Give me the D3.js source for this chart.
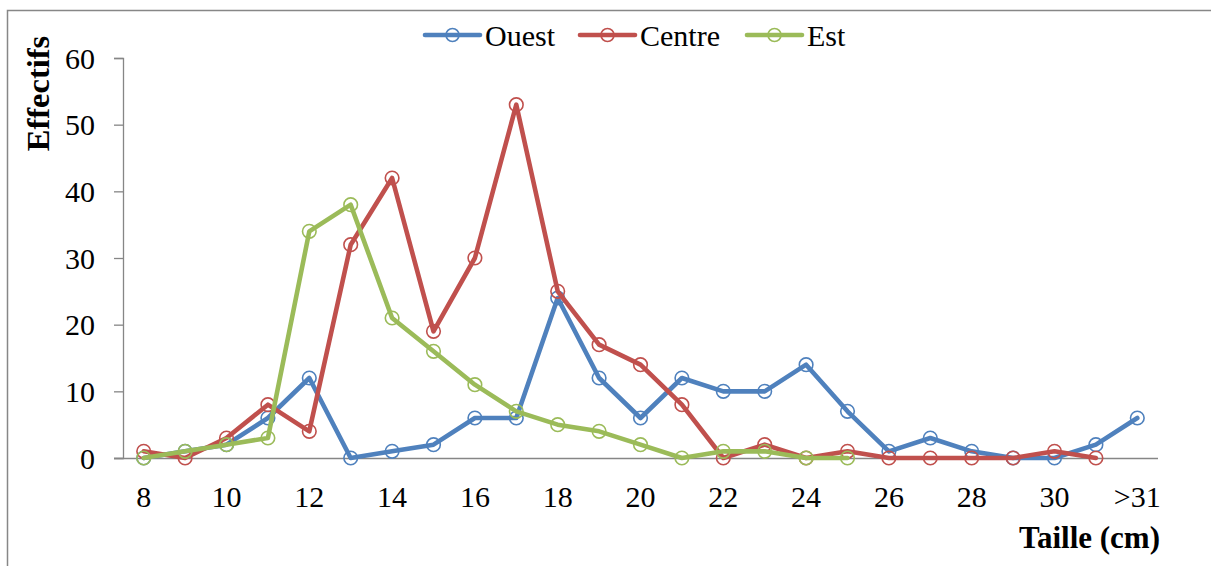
<!DOCTYPE html>
<html><head><meta charset="utf-8">
<script src="https://cdn.jsdelivr.net/npm/d3@7"></script>
<style>
body{margin:0;background:#fff;}
svg{display:block;font-family:"Liberation Serif","Times New Roman",serif;}
svg text{font-family:"Liberation Serif","Times New Roman",serif;}
</style></head>
<body><svg id="c" width="1211" height="566"></svg>
<script>
const categories = ["8","9","10","11","12","13","14","15","16","17","18","19","20","21","22","23","24","25","26","27","28","29","30","31",">31"];
const tickLabels = ["8","10","12","14","16","18","20","22","24","26","28","30",">31"];
const ouest  = [0,1,2,6,12,0,1,2,6,6,24,12,6,12,10,10,14,7,1,3,1,0,0,2,6];
const centre = [1,0,3,8,4,32,42,19,30,53,25,17,14,8,0,2,0,1,0,0,0,0,1,0,null];
const est    = [0,1,2,3,34,38,21,16,11,7,5,4,2,0,1,1,0,0,null,null,null,null,null,null,null];
const seriesNames = ["Ouest","Centre","Est"];
const yTicks = [0,10,20,30,40,50,60];

const series = [
  {name:seriesNames[0], values:ouest,  color:"#4F81BD"},
  {name:seriesNames[1], values:centre, color:"#C0504D"},
  {name:seriesNames[2], values:est,    color:"#9BBB59"}
];

const svg = d3.select("#c");
const axisColor = "#868686";

// outer frame
svg.append("rect").attr("x",7.5).attr("y",10.5).attr("width",1400).attr("height",700)
  .attr("fill","none").attr("stroke","#878787").attr("stroke-width",1.5);

const x = d3.scaleBand().domain(categories).range([123,1158]).paddingInner(0).paddingOuter(0);
const y = d3.scaleLinear().domain([0,60]).range([458,58]);

// y axis
const yAxis = svg.append("g").attr("transform","translate(123,0)")
  .call(d3.axisLeft(y).tickValues(yTicks).tickSize(9).tickPadding(19).tickFormat(d3.format("d")));
yAxis.attr("font-family",null);
yAxis.select(".domain").attr("stroke",axisColor).attr("stroke-width",1.3).attr("d","M-9,58.5H0.5V458.5H-9");
yAxis.selectAll(".tick line").attr("stroke",axisColor).attr("stroke-width",1.3);
yAxis.selectAll(".tick text").attr("font-size",30).attr("fill","#000").attr("dy","0.34em");

// x axis
const xAxis = svg.append("g").attr("transform","translate(0,458)")
  .call(d3.axisBottom(x).tickValues(categories.filter(c=>tickLabels.includes(c))).tickSize(0).tickPadding(0));
xAxis.attr("font-family",null);
xAxis.select(".domain").attr("stroke",axisColor).attr("stroke-width",1.3).attr("d","M114,0.5H1158");
xAxis.selectAll(".tick text").attr("font-size",30).attr("fill","#000")
  .attr("y",49).attr("dy",0);

// lines
const cx = i => x(categories[i]) + x.bandwidth()/2;
const line = d3.line().defined(d=>d!=null).x((d,i)=>cx(i)).y(d=>y(d));
series.forEach(s=>{
  const g = svg.append("g");
  g.append("path").attr("d", line(s.values)).attr("fill","none").attr("stroke",s.color)
    .attr("stroke-width",4.6).attr("stroke-linejoin","round").attr("stroke-linecap","round");
  g.selectAll("circle").data(s.values.map((v,i)=>({v,i})).filter(d=>d.v!=null)).enter()
    .append("circle").attr("cx",d=>cx(d.i)).attr("cy",d=>y(d.v)).attr("r",6.8)
    .attr("fill","none").attr("stroke",s.color).attr("stroke-width",1.6);
});

// legend
const legendItems = [
  {x0:425, tx:485},
  {x0:580, tx:640},
  {x0:747, tx:807}
];
series.forEach((s,k)=>{
  const L = legendItems[k];
  const g = svg.append("g");
  g.append("line").attr("x1",L.x0).attr("x2",L.x0+55).attr("y1",35).attr("y2",35)
    .attr("stroke",s.color).attr("stroke-width",4.6).attr("stroke-linecap","round");
  g.append("circle").attr("cx",L.x0+27.5).attr("cy",35).attr("r",6.5)
    .attr("fill","none").attr("stroke",s.color).attr("stroke-width",1.6);
  g.append("text").attr("x",L.tx).attr("y",46).attr("font-size",30).text(s.name);
});

// axis titles
svg.append("text").attr("transform","translate(49,93.5) rotate(-90)").attr("text-anchor","middle")
  .attr("font-size",32.5).attr("font-weight","bold").text("Effectifs");
svg.append("text").attr("x",1160).attr("y",548).attr("text-anchor","end")
  .attr("font-size",31).attr("font-weight","bold").text("Taille (cm)");
</script></body></html>
